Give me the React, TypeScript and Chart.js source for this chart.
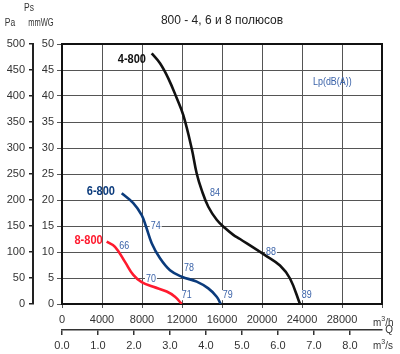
import React, { useEffect, useRef } from 'react';
import { Chart, registerables } from 'chart.js';
Chart.register(...registerables);

// Curve 4-800 (flow m3/h, static pressure mmWG)
const flow4 = [8970, 9800, 10630, 11470, 12130, 12970, 13470, 13970, 14630, 15470, 16300, 17130, 17800, 20300, 21800, 22800, 23800];
const ps4 = [48.2, 46.3, 43.4, 39.6, 36.3, 29.9, 25.1, 21.9, 18.7, 16.2, 14.6, 13.3, 12.5, 9.4, 7.4, 4.9, 0];
// Curve 6-800
const flow6 = [5970, 7130, 7970, 8400, 8970, 9800, 10800, 11970, 13470, 14630, 15470, 15870];
const ps6 = [21.3, 19.4, 17.1, 14.9, 11.7, 8.8, 6.5, 5.25, 4.3, 3.0, 1.4, 0];
// Curve 8-800
const flow8 = [4470, 5300, 6300, 7130, 7970, 9130, 10470, 11300, 11970];
const ps8 = [12.0, 11.0, 8.1, 5.6, 4.2, 3.3, 2.4, 1.4, 0];

const curveNames = ['4-800', '6-800', '8-800'];
const curveColors = ['#111111', '#0b3b7c', '#ff1a2e'];
const nameX = [8400, 5300, 4070];
const nameY = [47.0, 21.6, 12.1];

// Sound level labels Lp dB(A)
const lpText = ['66', '70', '71', '74', '78', '79', '84', '88', '89'];
const lpX = [5730, 8400, 11970, 8870, 12200, 16070, 14800, 20400, 23970];
const lpY = [11.2, 4.8, 1.7, 14.9, 6.9, 1.7, 21.3, 10.0, 1.7];
const lpTitle = 'Lp(dB(A))';
const lpTitleX = 25100;
const lpTitleY = 42.6;

const title = '800 - 4, 6 и 8 полюсов';
const flowMax = 32000; // m3/h
const psMax = 50; // mmWG
const paMax = 500; // Pa

const FONT = '"Liberation Sans", Arial, sans-serif';
const LP_FONT = `10.5px ${FONT}`;
const LP_SX = 0.85;

function toPoints(xs: number[], ys: number[]) {
  return xs.map((x, i) => ({ x, y: ys[i] }));
}

function drawText(ctx: CanvasRenderingContext2D, text: string, x: number, y: number, font: string, color: string, align: CanvasTextAlign, sx = 1) {
  ctx.save();
  ctx.translate(x, y);
  ctx.scale(sx, 1);
  ctx.font = font;
  ctx.fillStyle = color;
  ctx.textAlign = align;
  ctx.textBaseline = 'middle';
  ctx.fillText(text, 0, 0);
  ctx.restore();
}

const textPlugin = {
  id: 'texts',
  beforeDatasetsDraw(chart: any) {
    const ctx: CanvasRenderingContext2D = chart.ctx;
    const xs = chart.scales.x;
    const ys = chart.scales.y;
    for (let i = 0; i < lpText.length; i++) {
      const px = xs.getPixelForValue(lpX[i]);
      const py = ys.getPixelForValue(lpY[i]);
      ctx.save();
      ctx.font = LP_FONT;
      const w = ctx.measureText(lpText[i]).width * LP_SX;
      ctx.fillStyle = '#ffffff';
      ctx.fillRect(px - 1, py - 5, w + 2, 10);
      ctx.restore();
    }
  },
  afterDatasetsDraw(chart: any) {
    const ctx: CanvasRenderingContext2D = chart.ctx;
    const { left, right, top, bottom } = chart.chartArea;
    const xs = chart.scales.x;
    const ys = chart.scales.y;
    // frame
    ctx.save();
    ctx.strokeStyle = '#111';
    ctx.lineWidth = 2;
    ctx.beginPath();
    ctx.moveTo(left, top);
    ctx.lineTo(right, top);
    ctx.lineTo(right, bottom);
    ctx.stroke();
    ctx.restore();

    for (let i = 0; i < lpText.length; i++) {
      const px = xs.getPixelForValue(lpX[i]);
      const py = ys.getPixelForValue(lpY[i]);
      drawText(ctx, lpText[i], px, py, LP_FONT, '#3a62a8', 'left', LP_SX);
    }
    drawText(ctx, lpTitle, xs.getPixelForValue(lpTitleX), ys.getPixelForValue(lpTitleY), LP_FONT, '#3a62a8', 'left', 0.85);

    for (let i = 0; i < curveNames.length; i++) {
      drawText(ctx, curveNames[i], xs.getPixelForValue(nameX[i]), ys.getPixelForValue(nameY[i]), `bold 12px ${FONT}`, curveColors[i], 'right', 0.92);
    }
  },
  afterDraw(chart: any) {
    const ctx: CanvasRenderingContext2D = chart.ctx;
    const { left, right } = chart.chartArea;
    const x2 = chart.scales.x2;
    const x = chart.scales.x;
    drawText(ctx, title, (left + right) / 2, 21, `12px ${FONT}`, '#222', 'center');
    drawText(ctx, 'Ps', 29, 8, `10px ${FONT}`, '#333', 'center', 0.85);
    drawText(ctx, 'Pa', 10, 23, `10px ${FONT}`, '#333', 'center', 0.85);
    drawText(ctx, 'mmWG', 41, 23, `10px ${FONT}`, '#333', 'center', 0.75);
    const rx = 381;
    drawText(ctx, 'm', rx - 8, x.bottom - 7.5, `11px ${FONT}`, '#333', 'left', 0.9);
    drawText(ctx, '3', rx + 0.3, x.bottom - 11, `7px ${FONT}`, '#333', 'left');
    drawText(ctx, '/h', rx + 4.3, x.bottom - 7.5, `11px ${FONT}`, '#333', 'left', 0.9);
    drawText(ctx, 'Q', 389, x2.top, `11px ${FONT}`, '#333', 'center', 0.9);
    drawText(ctx, 'm', rx - 8, x2.top + 15.5, `11px ${FONT}`, '#333', 'left', 0.9);
    drawText(ctx, '3', rx + 0.3, x2.top + 12, `7px ${FONT}`, '#333', 'left');
    drawText(ctx, '/s', rx + 4.3, x2.top + 15.5, `11px ${FONT}`, '#333', 'left', 0.9);
  },
};

export default function App() {
  const ref = useRef<HTMLCanvasElement>(null);
  useEffect(() => {
    if (!ref.current) return;
    const tickFont = { family: FONT, size: 11 };
    const chart = new Chart(ref.current, {
      type: 'scatter',
      data: {
        datasets: [
          { label: curveNames[0], data: toPoints(flow4, ps4), borderColor: curveColors[0] },
          { label: curveNames[1], data: toPoints(flow6, ps6), borderColor: curveColors[1] },
          { label: curveNames[2], data: toPoints(flow8, ps8), borderColor: curveColors[2] },
        ].map((d) => ({
          ...d,
          showLine: true,
          borderWidth: 2.6,
          pointRadius: 0,
          fill: false,
          tension: 0.4,
          xAxisID: 'x',
          yAxisID: 'y',
        })),
      },
      plugins: [textPlugin],
      options: {
        animation: false,
        responsive: false,
        devicePixelRatio: 1,
        layout: { padding: { top: 44, right: 18, left: 0, bottom: 0 } },
        plugins: { legend: { display: false }, tooltip: { enabled: false }, title: { display: false } },
        scales: {
          x: {
            type: 'linear',
            position: 'bottom',
            weight: 0,
            min: 0,
            max: flowMax,
            ticks: {
              stepSize: 4000,
              autoSkip: false,
              maxRotation: 0,
              color: '#333',
              font: tickFont,
              padding: 5,
              callback: (v: any) => (Number(v) >= flowMax ? '' : String(v)),
            },
            grid: { color: '#555', lineWidth: 1, tickLength: 4, drawTicks: true },
            border: { color: '#111', width: 2 },
            afterFit: (s: any) => { s.height = 26; },
          },
          x2: {
            type: 'linear',
            position: 'bottom',
            weight: 1,
            min: 0,
            max: flowMax / 3600,
            ticks: {
              stepSize: 1,
              includeBounds: false,
              autoSkip: false,
              maxRotation: 0,
              color: '#333',
              font: tickFont,
              padding: 4,
              callback: (v: any) => Number(v).toFixed(1),
            },
            grid: { drawOnChartArea: false, color: '#333', tickLength: 5, lineWidth: 1.5 },
            border: { color: '#333', width: 1.5 },
            afterFit: (s: any) => { s.height = 24; },
          },
          y: {
            type: 'linear',
            position: 'left',
            weight: 0,
            min: 0,
            max: psMax,
            ticks: { stepSize: 5, color: '#333', font: tickFont, padding: 3 },
            grid: { color: '#555', lineWidth: 1, tickLength: 5 },
            border: { color: '#111', width: 2 },
            afterFit: (s: any) => { s.width = 29; },
          },
          pa: {
            type: 'linear',
            position: 'left',
            weight: 1,
            min: 0,
            max: paMax,
            ticks: { stepSize: 50, color: '#333', font: tickFont, padding: 4 },
            grid: { drawOnChartArea: false, color: '#222', lineWidth: 1.5, tickLength: 4 },
            border: { color: '#222', width: 2 },
            afterFit: (s: any) => { s.width = 33; },
          },
        },
      } as any,
    });
    return () => chart.destroy();
  }, []);
  return (
    <div style={{ position: 'absolute', left: 0, top: 0, width: 400, height: 354, background: '#fff' }}>
      <canvas ref={ref} width={400} height={354} />
    </div>
  );
}
